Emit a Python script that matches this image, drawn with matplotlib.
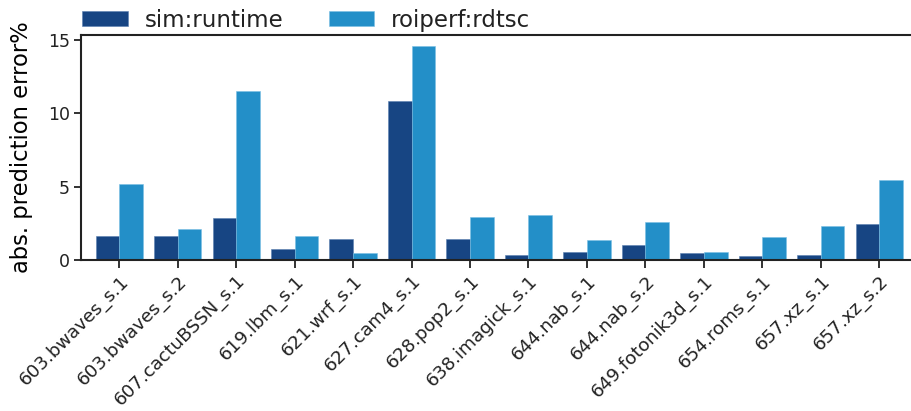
import numpy as np
import matplotlib
matplotlib.use('Agg')
import matplotlib.pyplot as plt

# benchmarks and errors (%)
benchmarks = ['603.bwaves_s.1', '603.bwaves_s.2', '607.cactuBSSN_s.1', '619.lbm_s.1',
              '621.wrf_s.1', '627.cam4_s.1', '628.pop2_s.1', '638.imagick_s.1',
              '644.nab_s.1', '644.nab_s.2', '649.fotonik3d_s.1', '654.roms_s.1',
              '657.xz_s.1', '657.xz_s.2']
sim_runtime = [1.62, 1.62, 2.89, 0.77, 1.41, 10.86, 1.45, 0.33, 0.52, 1.0, 0.47, 0.29, 0.36, 2.47]
roiperf_rdtsc = [5.16, 2.14, 11.52, 1.62, 0.5, 14.59, 2.95, 3.09, 1.33, 2.56, 0.52, 1.6, 2.34, 5.43]

plt.rcParams['font.family'] = 'DejaVu Sans'
plt.rcParams['text.color'] = '#222222'

fig = plt.figure(figsize=(9.12, 4.11), dpi=100)
ax = fig.add_axes([0.0888, 0.3674, 0.9112, 0.5482])

x = np.arange(len(benchmarks))
w = 0.405
ax.bar(x - w / 2, sim_runtime, w, color='#174583', edgecolor='#5a7fb0', linewidth=0.4,
       label='sim:runtime')
ax.bar(x + w / 2, roiperf_rdtsc, w, color='#238fc8', edgecolor='#7cc0e4', linewidth=0.4,
       label='roiperf:rdtsc')

ax.set_xlim(-0.655, 13.56)
ax.set_ylim(0, 15.36)
ax.set_yticks([0, 5, 10, 15])
ax.set_xticks(x)
ax.set_xticklabels(benchmarks, rotation=45, ha='right', rotation_mode='anchor', fontsize=13.2)
ax.set_ylabel('abs. prediction error%', fontsize=16.3, labelpad=11)

ax.spines['right'].set_visible(False)
for s in ['left', 'bottom', 'top']:
    ax.spines[s].set_linewidth(1.5)
    ax.spines[s].set_color('#222222')
ax.tick_params(axis='x', length=6, width=1.3, color='#222222', labelcolor='#222222', pad=2.5)
ax.tick_params(axis='y', length=5, width=1.3, color='#222222', labelcolor='#222222',
               labelsize=12.5, pad=3)

ax.legend(loc='center left', bbox_to_anchor=(0.001, 1.065), ncol=2, frameon=False,
          handlelength=2.0, handleheight=0.68, handletextpad=0.74, columnspacing=1.97,
          borderaxespad=0, borderpad=0, fontsize=16.5)

plt.savefig('out.png', dpi=100)
